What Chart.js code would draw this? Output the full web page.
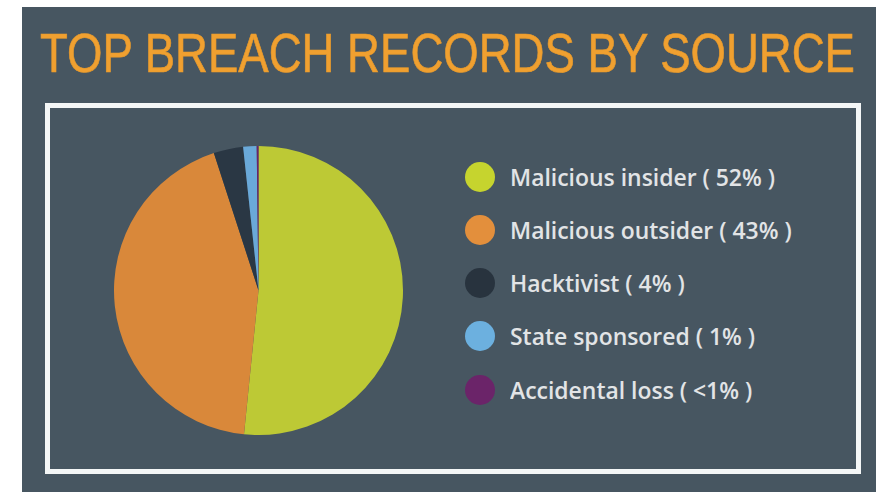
<!DOCTYPE html>
<html>
<head>
<meta charset="utf-8">
<script src="https://cdn.jsdelivr.net/npm/chart.js"></script>
<style>
  html, body { margin: 0; padding: 0; background: #ffffff; }
  body { width: 876px; height: 492px; position: relative; overflow: hidden; }
  .panel { position: absolute; left: 22px; top: 7px; width: 854px; height: 485px; background: #475661; }
  .title {
    position: absolute; left: 40px; top: 25px; white-space: nowrap;
    font-family: 'Liberation Sans Narrow', 'Liberation Sans', Arial, sans-serif;
    font-size: 56px; line-height: 56px; color: #f0a030; transform-origin: 0 0;
    -webkit-text-stroke: 0.7px #e89a2c;
  }
  .frame { position: absolute; left: 45px; top: 103px; width: 816px; height: 371px; box-sizing: border-box; border: 5px solid #f4f6f6; }
  #pie { position: absolute; left: 114px; top: 146px; }
  .legend-row { position: absolute; left: 465px; height: 30px; display: flex; align-items: center; }
  .dot { width: 30px; height: 30px; border-radius: 50%; margin-right: 15px; flex: none; }
  .lbl { font-family: 'Open Sans', 'Noto Sans', sans-serif; font-size: 24px; line-height: 24px; font-weight: 600; color: #e2e4e6; white-space: nowrap; transform-origin: 0 50%; }
</style>
</head>
<body>
<div class="panel"></div>
<div class="title" id="title">TOP BREACH RECORDS BY SOURCE</div>
<div class="frame"></div>
<canvas id="pie" width="289" height="289"></canvas>
<div id="legend"></div>
<script>
const sources = ['Malicious insider', 'Malicious outsider', 'Hacktivist', 'State sponsored', 'Accidental loss'];
const shareLabels = ['52%', '43%', '4%', '1%', '<1%'];
// slice sizes as drawn in the picture
const sliceValues = [51.6, 43.4, 3.3, 1.5, 0.2];
const sliceColors = ['#bdc935', '#d9883a', '#2a3744', '#6aa9d9', '#6b2469'];
const dotColors = ['#c6d42e', '#e38f3c', '#28333e', '#6cb0df', '#6b2469'];
const rowCenters = [177, 230, 283, 336, 390];

function fitTitle() {
  const el = document.getElementById('title');
  const w = el.getBoundingClientRect().width;
  el.style.transform = 'scaleX(' + (815 / w) + ')';
}

function renderLegend() {
  const el = document.getElementById('legend');
  el.innerHTML = sources.map((s, i) => `
    <div class="legend-row" style="top:${rowCenters[i] - 15}px">
      <span class="dot" style="background:${dotColors[i]}"></span>
      <span class="lbl">${s} ( ${shareLabels[i]} )</span>
    </div>`).join('');
  // first label spans ~265px in the reference
  const first = el.querySelector('.lbl');
  const k = 265 / first.getBoundingClientRect().width;
  el.querySelectorAll('.lbl').forEach(l => { l.style.transform = 'scaleX(' + k + ')'; });
}

function renderPie() {
  new Chart(document.getElementById('pie'), {
    type: 'pie',
    data: {
      labels: sources,
      datasets: [{
        data: sliceValues,
        backgroundColor: sliceColors,
        borderWidth: 0
      }]
    },
    options: {
      responsive: false,
      animation: false,
      layout: { padding: 0 },
      plugins: { legend: { display: false }, tooltip: { enabled: false } }
    }
  });
}

fitTitle();
renderLegend();
renderPie();
</script>
</body>
</html>
